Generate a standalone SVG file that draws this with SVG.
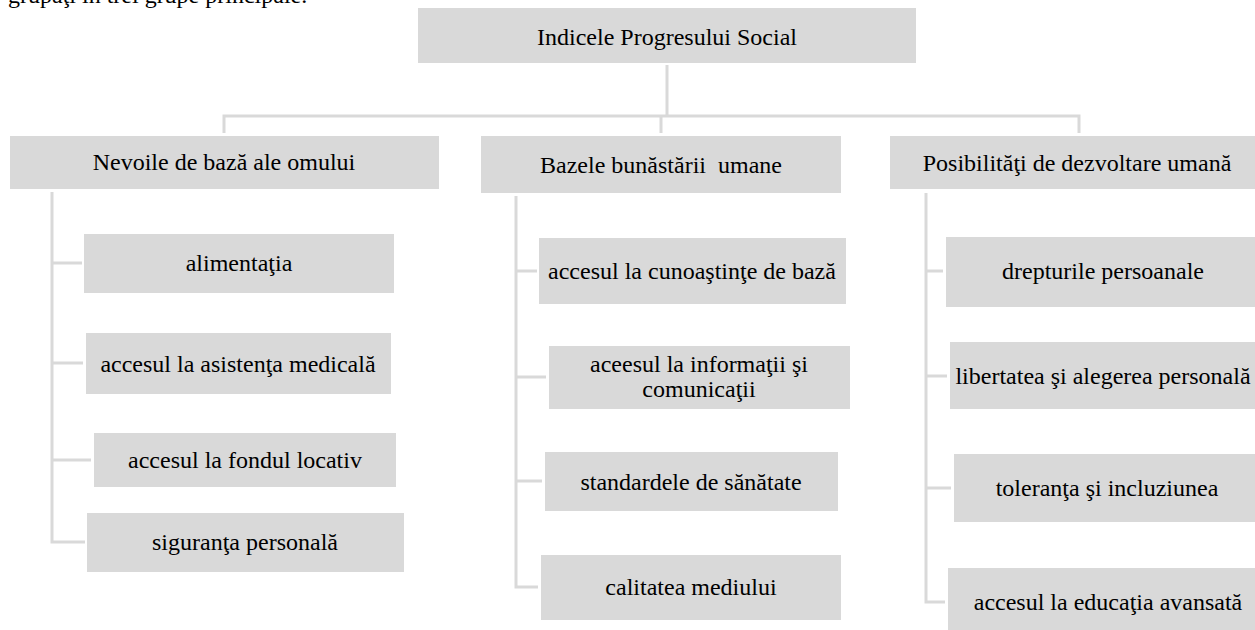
<svg xmlns="http://www.w3.org/2000/svg" width="1255" height="630" viewBox="0 0 1255 630">
<style>
.box{fill:#d9d9d9}
text{font-family:'Liberation Serif','Times New Roman','DejaVu Serif',serif;font-size:24px;fill:#000}
.t{text-anchor:middle}
.c{fill:none;stroke:#d9d9d9;stroke-width:3}
</style>
<rect width="1255" height="630" fill="#fff"/>
<text x="8" y="3">grupaţi în trei grupe principale.</text>
<g id="connectors">
<path class="c" d="M667,65 V116 M224,133 V116 H1079 V133 M661,116 V133"/>
<path class="c" d="M52,192 V542 H85 M52,263 H82 M52,363 H83 M52,460 H91"/>
<path class="c" d="M516,196 V587 H538 M516,271 H537 M516,377 H546 M516,481 H542"/>
<path class="c" d="M926,193 V602 H945 M926,271 H943 M926,376 H947 M926,488 H951"/>
</g>
<g id="root"><rect class="box" x="418" y="8" width="498" height="55"/><text class="t" x="667" y="45">Indicele Progresului Social</text></g>
<g id="g1"><rect class="box" x="10" y="136" width="429" height="53"/><text class="t" x="224" y="170">Nevoile de bază ale omului</text></g>
<g id="g2"><rect class="box" x="481" y="136" width="360" height="57"/><text class="t" x="661" y="173" xml:space="preserve">Bazele bunăstării  umane</text></g>
<g id="g3"><rect class="box" x="890" y="136" width="365" height="53"/><text class="t" x="1077" y="171">Posibilităţi de dezvoltare umană</text></g>
<g id="n11"><rect class="box" x="84" y="234" width="310" height="59"/><text class="t" x="239" y="271">alimentaţia</text></g>
<g id="n12"><rect class="box" x="86" y="333" width="305" height="61"/><text class="t" x="238" y="372">accesul la asistenţa medicală</text></g>
<g id="n13"><rect class="box" x="94" y="433" width="302" height="54"/><text class="t" x="245" y="468">accesul la fondul locativ</text></g>
<g id="n14"><rect class="box" x="87" y="513" width="317" height="59"/><text class="t" x="245" y="550">siguranţa personală</text></g>
<g id="n21"><rect class="box" x="539" y="238" width="307" height="66"/><text class="t" x="692" y="279">accesul la cunoaştinţe de bază</text></g>
<g id="n22"><rect class="box" x="549" y="346" width="301" height="63"/><text class="t" x="699" y="372">aceesul la informaţii şi</text><text class="t" x="699" y="397">comunicaţii</text></g>
<g id="n23"><rect class="box" x="545" y="452" width="293" height="59"/><text class="t" x="691" y="490">standardele de sănătate</text></g>
<g id="n24"><rect class="box" x="541" y="555" width="300" height="65"/><text class="t" x="691" y="595">calitatea mediului</text></g>
<g id="n31"><rect class="box" x="946" y="237" width="309" height="70"/><text class="t" x="1103" y="279">drepturile persoanale</text></g>
<g id="n32"><rect class="box" x="950" y="342" width="305" height="67"/><text class="t" x="1103" y="384">libertatea şi alegerea personală</text></g>
<g id="n33"><rect class="box" x="954" y="454" width="301" height="68"/><text class="t" x="1107" y="496">toleranţa şi incluziunea</text></g>
<g id="n34"><rect class="box" x="948" y="568" width="307" height="62"/><text class="t" x="1108" y="610">accesul la educaţia avansată</text></g>
</svg>
